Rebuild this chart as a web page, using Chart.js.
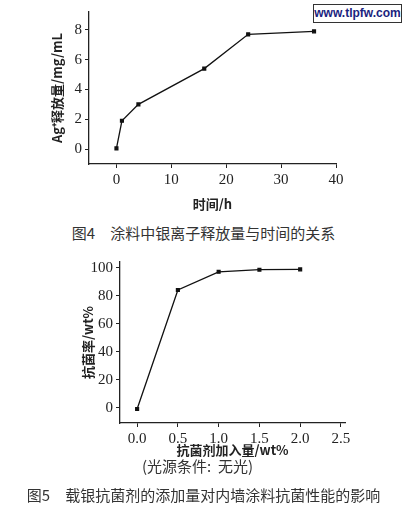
<!DOCTYPE html>
<html>
<head>
<meta charset="utf-8">
<script src="https://cdn.jsdelivr.net/npm/chart.js@4"></script>
<style>
  body { margin: 0; width: 407px; height: 510px; background: #fff; position: relative; overflow: hidden; }
  .box { position: absolute; }
  .cap { position: absolute; left: 0; width: 407px; text-align: center; font-family: "Noto Sans CJK SC"; color: #333; }
  #mark { position: absolute; left: 313px; top: 4px; width: 87px; height: 17px; border: 1px solid #333; background: #fff;
          font: bold 12px "Liberation Sans", sans-serif; color: #1a237e; text-align: center; line-height: 17px; }
</style>
</head>
<body>
<div class="box" style="left:0;top:0;width:407px;height:212px"><canvas id="releaseChart"></canvas></div>
<div class="box" style="left:0;top:250px;width:407px;height:210px"><canvas id="antiChart"></canvas></div>
<div id="mark">www.tlpfw.com</div>
<div class="cap" style="top:222px;font-size:15px">图4　涂料中银离子释放量与时间的关系</div>
<div class="cap" style="top:455px;font-size:15px;left:-6px">(光源条件:&nbsp; 无光)</div>
<div class="cap" style="top:484px;font-size:15px">图5　载银抗菌剂的添加量对内墙涂料抗菌性能的影响</div>
<script>
// Fig 4: Ag+ release vs time
const timeH = [0, 1, 4, 16, 24, 36];
const agRelease = [0.05, 1.9, 3.0, 5.4, 7.7, 7.9];
const timeTicks = [0, 10, 20, 30, 40];
const releaseTicks = [0, 2, 4, 6, 8];

// Fig 5: antibacterial rate vs dosage
const dosage = [0, 0.5, 1.0, 1.5, 2.0];
const antiRate = [-1, 84, 97, 98.5, 98.7];
const dosageTicks = [0, 0.5, 1.0, 1.5, 2.0, 2.5];
const rateTicks = [0, 20, 40, 60, 80, 100];

const tickFont = { family: 'Liberation Serif', size: 15 };
const titleFont = { family: 'Noto Sans CJK SC', size: 13, weight: 'bold' };

function axis(opts) {
    return {
        type: 'linear',
        min: opts.min,
        max: opts.max,
        grid: { drawOnChartArea: false, drawTicks: true, tickLength: 4, color: '#222' },
        border: { display: true, color: '#222', width: 1.3 },
        ticks: { color: '#222', font: tickFont, padding: 3, callback: opts.fmt || (v => v) },
        title: { display: true, text: opts.title, color: '#222', font: titleFont, padding: opts.titlePad || 2 },
        afterBuildTicks: a => { a.ticks = opts.ticks.map(v => ({ value: v })); },
        afterFit: a => { if (opts.w) a.width = opts.w; if (opts.h) a.height = opts.h; }
    };
}

function makeChart(id, xs, ys, xOpts, yOpts, pad) {
    new Chart(document.getElementById(id), {
        type: 'line',
        data: {
            datasets: [{
                data: xs.map((x, i) => ({ x: x, y: ys[i] })),
                borderColor: '#111',
                backgroundColor: '#111',
                borderWidth: 1.3,
                pointStyle: 'rect',
                pointRadius: 2,
                tension: 0,
                fill: false
            }]
        },
        options: {
            responsive: true,
            maintainAspectRatio: false,
            animation: false,
            layout: { padding: pad },
            plugins: { legend: { display: false }, tooltip: { enabled: false } },
            scales: { x: axis(xOpts), y: axis(yOpts) }
        }
    });
}

makeChart('releaseChart', timeH, agRelease,
    { min: -5, max: 40, ticks: timeTicks, title: '时间/h', h: 48, titlePad: { top: 10, bottom: 0 } },
    { min: -1, max: 9.2, ticks: releaseTicks, title: 'Ag⁺释放量/mg/mL', w: 42 },
    { left: 47, right: 71, top: 0, bottom: 0 });

makeChart('antiChart', dosage, antiRate,
    { min: -0.21, max: 2.55, ticks: dosageTicks, title: '抗菌剂加入量/wt%', h: 37, titlePad: 0,
      fmt: v => v.toFixed(1) },
    { min: -11, max: 104, ticks: rateTicks, title: '抗菌率/wt%', w: 42 },
    { left: 78, right: 62, top: 12, bottom: 0 });
</script>
</body>
</html>
